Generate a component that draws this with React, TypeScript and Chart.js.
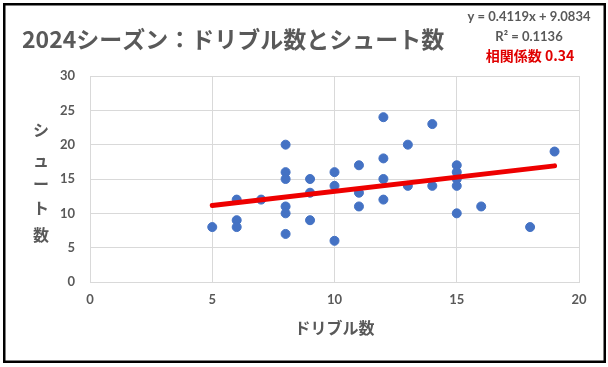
import React, { useEffect, useRef } from "react";
import { Chart, registerables } from "chart.js";

Chart.register(...registerables);

const titleText = "2024シーズン：ドリブル数とシュート数";
const xTitle = "ドリブル数";
const yTitle = "シュート数";
const eqText = "y = 0.4119x + 9.0834";
const r2Text = "R² = 0.1136";
const corrText = "相関係数 0.34";

const dribbles = [5, 6, 6, 6, 7, 8, 8, 8, 8, 8, 8, 9, 9, 9, 10, 10, 10, 11, 11, 11, 12, 12, 12, 12, 13, 13, 14, 14, 15, 15, 15, 15, 15, 16, 18, 19];
const shots = [8, 12, 9, 8, 12, 20, 16, 15, 11, 10, 7, 15, 13, 9, 16, 14, 6, 17, 13, 11, 24, 18, 15, 12, 20, 14, 23, 14, 17, 16, 15, 14, 10, 11, 8, 19];

const slope = 0.4119;
const intercept = 9.0834;

const xMin = 0, xMax = 20, xStep = 5;
const yMin = 0, yMax = 30, yStep = 5;

const GRAY = "#595959";
const GRID = "#d9d9d9";
const NUMFONT = "Lato, 'Noto Sans CJK JP', sans-serif";
const JPFONT = "'Noto Sans CJK JP', sans-serif";

const decorPlugin = {
  id: "decor",
  beforeDraw(chart: any) {
    const ctx = chart.ctx;
    ctx.save();
    ctx.fillStyle = "#ffffff";
    ctx.fillRect(0, 0, chart.width, chart.height);
    ctx.restore();
  },
  afterDraw(chart: any) {
    const ctx = chart.ctx;
    const area = chart.chartArea;
    ctx.save();
    // title
    ctx.fillStyle = GRAY;
    ctx.textBaseline = "middle";
    ctx.textAlign = "left";
    ctx.font = "bold 23px " + JPFONT;
    ctx.fillText(titleText, 22, 39);
    // equation
    ctx.textAlign = "center";
    ctx.font = "bold 13px " + NUMFONT;
    ctx.fillText(eqText, 529, 17);
    ctx.fillText(r2Text, 529, 37);
    ctx.fillStyle = "#e00000";
    ctx.font = "bold 14px " + JPFONT;
    ctx.fillText(corrText, 530, 56);
    // x title
    ctx.fillStyle = GRAY;
    ctx.font = "bold 16px " + JPFONT;
    ctx.fillText(xTitle, (area.left + area.right) / 2, 328);
    // y title stacked vertically
    const chars = Array.from(yTitle);
    const ys = [130, 160, 184, 208, 235];
    chars.forEach((c, i) => {
      ctx.fillText(c, 41, ys[i] ?? 130 + i * 26);
    });
    // outer border
    ctx.strokeStyle = "#000000";
    ctx.lineWidth = 2.5;
    ctx.strokeRect(4.25, 4.25, 600.5, 357.5);
    ctx.restore();
  },
};

export default function App() {
  const ref = useRef<HTMLCanvasElement | null>(null);
  useEffect(() => {
    document.body.style.margin = "0";
    const canvas = ref.current;
    if (!canvas) return;
    const points = dribbles.map((x, i) => ({ x, y: shots[i] }));
    const lo = Math.min(...dribbles);
    const hi = Math.max(...dribbles);
    const trend = [lo, hi].map((x) => ({ x, y: slope * x + intercept }));
    const chart = new Chart(canvas, {
      type: "scatter",
      data: {
        datasets: [
          {
            type: "line",
            data: trend,
            borderColor: "#ee0000",
            borderWidth: 5,
            borderCapStyle: "round",
            pointRadius: 0,
            fill: false,
            order: 0,
          } as any,
          {
            data: points,
            backgroundColor: "#4472C4",
            borderColor: "#4472C4",
            pointRadius: 4.5,
            order: 1,
          },
        ],
      },
      options: {
        animation: false,
        responsive: false,
        maintainAspectRatio: false,
        layout: { padding: { left: 0, right: 29, top: 76, bottom: 0 } },
        plugins: { legend: { display: false }, tooltip: { enabled: false }, title: { display: false } },
        scales: {
          x: {
            type: "linear",
            min: xMin,
            max: xMax,
            ticks: { stepSize: xStep, color: GRAY, padding: 10, font: { family: NUMFONT, size: 13, weight: "bold" } },
            grid: { color: GRID, drawTicks: false, lineWidth: 1 },
            border: { display: true, color: GRID },
            afterFit: (s: any) => { s.height = 85; },
          },
          y: {
            type: "linear",
            min: yMin,
            max: yMax,
            ticks: { stepSize: yStep, color: GRAY, padding: 15, font: { family: NUMFONT, size: 13, weight: "bold" } },
            grid: { color: GRID, drawTicks: false, lineWidth: 1 },
            border: { display: true, color: GRID },
            afterFit: (s: any) => { s.width = 90; },
          },
        },
      },
      plugins: [decorPlugin],
    });
    return () => chart.destroy();
  }, []);
  return (
    <div style={{ width: 608, height: 367 }}>
      <canvas ref={ref} width={608} height={367} style={{ display: "block" }} />
    </div>
  );
}
